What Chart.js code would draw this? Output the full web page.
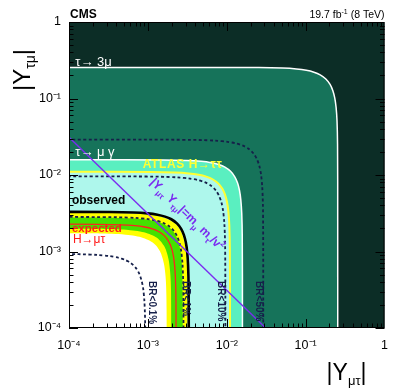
<!DOCTYPE html>
<html>
<head>
<meta charset="utf-8">
<script src="https://cdn.jsdelivr.net/npm/chart.js@4.4.1/dist/chart.umd.min.js"></script>
<style>
  html, body { margin: 0; padding: 0; background: #fff; }
  #wrap { width: 398px; height: 389px; position: relative; }
</style>
</head>
<body>
<div id="wrap"><canvas id="chart" width="398" height="389"></canvas></div>
<script>
const bandNames = ['tau3mu', 'atlasObserved', 'atlasExpected', 'cms2sigmaUp', 'cms1sigmaUp', 'cms1sigmaDown', 'cms2sigmaDown'];
const bandRadii = [0.255, 0.0158, 0.011, 0.0032, 0.00278, 0.00199, 0.00174];

const brNames = ['BR<0.1%', 'BR<1%', 'BR<10%', 'BR<50%'];
const brRadii = [0.00093, 0.00283, 0.0096, 0.029];

const observedRadius = 0.0033;
const expectedRadius = 0.00228;

// |Y_mutau Y_taumu| = m_mu m_tau / v^2
const naturalX = [1e-4, 0.0311];
const naturalY = [0.0311, 1e-4];

// shape of a quarter circle of unit radius (x/R, y/R)
const cornerU = [0.00001, 0.01, 0.1, 0.2, 0.3, 0.4, 0.5, 0.6, 0.7071, 0.8, 0.866, 0.917, 0.954, 0.98, 0.995, 0.99995, 1.0];
const cornerV = [1.0, 0.99995, 0.995, 0.98, 0.954, 0.917, 0.866, 0.8, 0.7071, 0.6, 0.5, 0.4, 0.3, 0.2, 0.1, 0.01, 0.00001];

const xTickValues = [1e-4, 1e-3, 1e-2, 1e-1, 1];
const xTickLabels = ['10\u207B\u2074', '10\u207B\u00B3', '10\u207B\u00B2', '10\u207B\u00B9', '1'];
const yTickValues = [1e-4, 1e-3, 1e-2, 1e-1, 1];
const yTickLabels = ['10\u207B\u2074', '10\u207B\u00B3', '10\u207B\u00B2', '10\u207B\u00B9', '1'];

const FONT = "'Liberation Sans', Arial, Helvetica, sans-serif";
const NAVY = '#16204a';

function ringPoints(r) {
    return cornerU.map((u, i) => ({ x: r * u, y: r * cornerV[i] }));
}

function filledRing(name, color, border, width) {
    const r = bandRadii[bandNames.indexOf(name)];
    return {
        data: ringPoints(r), fill: 'start', backgroundColor: color,
        borderColor: border || color, borderWidth: width || 0
    };
}

function outline(r, color, width, dash) {
    return { data: ringPoints(r), fill: false, borderColor: color, borderWidth: width, borderDash: dash || [] };
}

const layers = [
    filledRing('tau3mu', '#16735a', '#ffffff', 1.5),
    outline(brRadii[3], NAVY, 1.8, [3, 2.5]),
    filledRing('atlasObserved', '#5aefc0', '#ffffff', 1.5),
    filledRing('atlasExpected', '#aef7ec', '#ffff33', 2),
    outline(brRadii[2], NAVY, 1.8, [3, 2.5]),
    filledRing('cms2sigmaUp', '#ffff00'),
    filledRing('cms1sigmaUp', '#44e000'),
    filledRing('cms1sigmaDown', '#ffff00'),
    filledRing('cms2sigmaDown', '#ffffff'),
    outline(expectedRadius, '#ff2020', 1.3),
    outline(brRadii[1], NAVY, 1.8, [3, 2.5]),
    outline(observedRadius, '#000000', 2.6),
    outline(brRadii[0], NAVY, 1.8, [3, 2.5]),
    { data: naturalX.map((x, i) => ({ x, y: naturalY[i] })), fill: false, borderColor: '#7a2cf0', borderWidth: 1.4, tension: 0 }
];
const datasets = layers.map((d, i) => Object.assign({ order: layers.length - i, tension: 0.4, pointRadius: 0, pointHitRadius: 0 }, d));

function drawParts(ctx, parts, x, y) {
    parts.forEach(p => {
        ctx.font = p.font;
        ctx.fillText(p.t, x, y + (p.dy || 0));
        x += ctx.measureText(p.t).width;
    });
}
function partsWidth(ctx, parts) {
    let w = 0;
    parts.forEach(p => { ctx.font = p.font; w += ctx.measureText(p.t).width; });
    return w;
}

const backdrop = {
    id: 'backdrop',
    beforeDraw(chart) {
        const { ctx, chartArea: a } = chart;
        ctx.save();
        ctx.fillStyle = '#0c2d26';
        ctx.fillRect(a.left, a.top, a.right - a.left, a.bottom - a.top);
        ctx.restore();
    }
};

const decorations = {
    id: 'decorations',
    afterDatasetsDraw(chart) {
        const { ctx, chartArea: a, scales } = chart;
        const xs = scales.x, ys = scales.y;
        const px = v => xs.getPixelForValue(v);
        const py = v => ys.getPixelForValue(v);
        ctx.save();

        // text labels inside the plot
        ctx.textBaseline = 'alphabetic';
        ctx.textAlign = 'left';
        ctx.fillStyle = '#ffffff';
        drawParts(ctx, [{ t: '\u03C4\u2192 3\u03BC', font: `13px ${FONT}` }], px(1.2e-4), py(0.266));
        drawParts(ctx, [{ t: '\u03C4\u2192 \u03BC \u03B3', font: `13px ${FONT}` }], px(1.2e-4), py(0.0177));
        ctx.fillStyle = '#ffff33';
        ctx.letterSpacing = '0.6px';
        drawParts(ctx, [{ t: 'ATLAS H\u2192\u03C4\u03C4', font: `bold 12px ${FONT}` }], px(8.6e-4), py(0.01235));
        ctx.letterSpacing = '0px';
        ctx.fillStyle = '#000000';
        drawParts(ctx, [{ t: 'observed', font: `bold 12px ${FONT}` }], px(1.09e-4), py(4.18e-3));
        ctx.fillStyle = '#ff1a1a';
        drawParts(ctx, [{ t: 'expected', font: `bold 11.5px ${FONT}` }], px(1.09e-4), py(1.8e-3));
        drawParts(ctx, [{ t: 'H\u2192\u03BC\u03C4', font: `12px ${FONT}` }], px(1.12e-4), py(1.29e-3));

        // BR labels, vertical
        const brLabelX = [1.11e-3, 3.0e-3, 8.3e-3, 0.0251];
        ctx.fillStyle = NAVY;
        ctx.textBaseline = 'middle';
        brNames.forEach((t, i) => {
            ctx.save();
            ctx.translate(px(brLabelX[i]), py(4.1e-4));
            ctx.rotate(Math.PI / 2);
            ctx.font = `bold 10px ${FONT}`;
            ctx.fillText(t, 0, 0);
            ctx.restore();
        });

        // label along the naturalness line
        const ang = Math.atan2(py(naturalY[1]) - py(naturalY[0]), px(naturalX[1]) - px(naturalX[0]));
        ctx.save();
        ctx.translate(px(1.05e-3), py(7.86e-3));
        ctx.rotate(ang);
        ctx.textBaseline = 'alphabetic';
        ctx.fillStyle = '#7a2cf0';
        const big = `bold 12px ${FONT}`, small = `bold 8px ${FONT}`;
        drawParts(ctx, [
            { t: '|Y', font: big }, { t: '\u03BC\u03C4', font: small, dy: 4 },
            { t: ' Y', font: big }, { t: '\u03C4\u03BC', font: small, dy: 4 },
            { t: '|=m', font: big }, { t: '\u03BC', font: small, dy: 4 },
            { t: ' m', font: big }, { t: '\u03C4', font: small, dy: 4 },
            { t: '/v', font: big }, { t: '2', font: small, dy: -5 }
        ], 0, 0);
        ctx.restore();

        // frame and inward ticks on all sides
        ctx.strokeStyle = '#000000';
        ctx.lineWidth = 1;
        ctx.strokeRect(a.left + 0.5, a.top + 0.5, a.right - a.left - 1, a.bottom - a.top - 1);
        ctx.beginPath();
        for (let d = -4; d < 0; d++) {
            for (let k = 1; k < 10; k++) {
                const v = k * Math.pow(10, d);
                const len = k === 1 ? 9 : 4.5;
                const x = Math.round(px(v)) + 0.5;
                const y = Math.round(py(v)) + 0.5;
                ctx.moveTo(x, a.bottom); ctx.lineTo(x, a.bottom - len);
                ctx.moveTo(x, a.top); ctx.lineTo(x, a.top + len);
                ctx.moveTo(a.left, y); ctx.lineTo(a.left + len, y);
                ctx.moveTo(a.right, y); ctx.lineTo(a.right - len, y);
            }
        }
        ctx.stroke();

        // header
        ctx.fillStyle = '#000000';
        ctx.textBaseline = 'alphabetic';
        drawParts(ctx, [{ t: 'CMS', font: `bold 12px ${FONT}` }], a.left + 1, a.top - 4);
        const lumi = [
            { t: '19.7 fb', font: `10.5px ${FONT}` },
            { t: '-1', font: `7px ${FONT}`, dy: -4 },
            { t: ' (8 TeV)', font: `10.5px ${FONT}` }
        ];
        drawParts(ctx, lumi, a.right - partsWidth(ctx, lumi), a.top - 4);

        // axis titles
        const xTitle = [
            { t: '|Y', font: `23px ${FONT}` },
            { t: '\u03BC\u03C4', font: `13px ${FONT}`, dy: 5 },
            { t: '|', font: `23px ${FONT}` }
        ];
        drawParts(ctx, xTitle, a.right - 18 - partsWidth(ctx, xTitle), a.bottom + 52);
        const yTitle = [
            { t: '|Y', font: `24px ${FONT}` },
            { t: '\u03C4\u03BC', font: `14px ${FONT}`, dy: 5 },
            { t: '|', font: `24px ${FONT}` }
        ];
        ctx.save();
        ctx.translate(a.left - 39, a.top + 48 + partsWidth(ctx, yTitle) / 2);
        ctx.rotate(-Math.PI / 2);
        drawParts(ctx, yTitle, 0, 0);
        ctx.restore();

        ctx.restore();
    }
};

new Chart(document.getElementById('chart'), {
    type: 'line',
    data: { datasets },
    options: {
        responsive: false,
        animation: false,
        events: [],
        layout: { padding: { top: 22, right: 12, left: 0, bottom: 0 } },
        plugins: { legend: { display: false }, tooltip: { enabled: false } },
        scales: {
            x: {
                type: 'logarithmic', min: 1e-4, max: 1,
                grid: { display: false, drawTicks: false },
                border: { display: false },
                afterBuildTicks: s => { s.ticks = xTickValues.map(v => ({ value: v })); },
                afterFit: s => { s.height = 61; },
                ticks: {
                    autoSkip: false, maxRotation: 0, padding: 10, color: '#000',
                    font: { family: FONT, size: 12.5 },
                    callback: (v, i) => xTickLabels[i]
                }
            },
            y: {
                type: 'logarithmic', min: 1e-4, max: 1,
                grid: { display: false, drawTicks: false },
                border: { display: false },
                afterBuildTicks: s => { s.ticks = yTickValues.map(v => ({ value: v })); },
                afterFit: s => { s.width = 69; },
                ticks: {
                    autoSkip: false, padding: 8, color: '#000',
                    font: { family: FONT, size: 12.5 },
                    callback: (v, i) => yTickLabels[i]
                }
            }
        }
    },
    plugins: [backdrop, decorations]
});
</script>
</body>
</html>
